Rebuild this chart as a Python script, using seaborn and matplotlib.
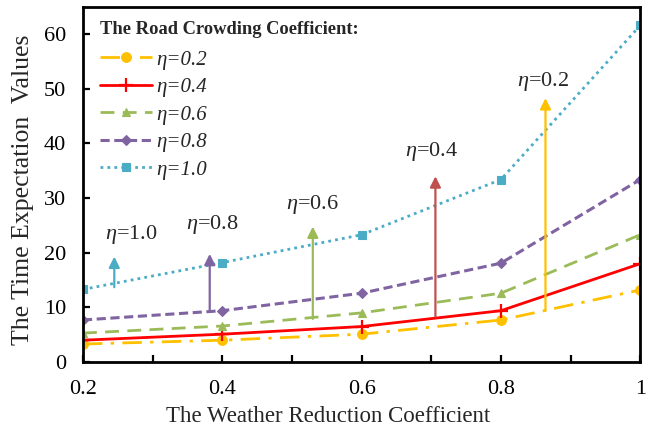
import matplotlib
matplotlib.use("Agg")
import matplotlib.pyplot as plt
import seaborn as sns
import pandas as pd

# Weather reduction coefficient (x) and time expectation values per crowding level
weather = [0.2, 0.4, 0.6, 0.8, 1.0]
eta_labels = ["η=0.2", "η=0.4", "η=0.6", "η=0.8", "η=1.0"]
eta02 = [3.3, 4.0, 5.1, 7.7, 13.2]
eta04 = [4.0, 5.1, 6.5, 9.4, 18.0]
eta06 = [5.3, 6.6, 9.0, 12.6, 23.3]
eta08 = [7.7, 9.4, 12.6, 18.1, 33.4]
eta10 = [13.3, 18.2, 23.3, 33.4, 61.6]

x_ticks = [0.2, 0.3, 0.4, 0.5, 0.6, 0.7, 0.8, 0.9, 1.0]
x_tick_labels = ["0.2", "", "0.4", "", "0.6", "", "0.8", "", "1"]
y_ticks = [0, 10, 20, 30, 40, 50, 60]

# Arrow callouts: (label, x, base, tip, label_x, label_y)
callouts = [
    ("1.0", 0.245, 13.7, 19.3, 0.270, 23.3),
    ("0.8", 0.382, 9.2, 19.8, 0.385, 25.1),
    ("0.6", 0.530, 7.9, 24.8, 0.529, 28.8),
    ("0.4", 0.706, 8.3, 34.0, 0.700, 38.5),
    ("0.2", 0.864, 9.4, 48.3, 0.860, 51.4),
]

sns.set_theme(style="white")
plt.rcParams["font.family"] = ["Liberation Serif", "DejaVu Serif"]
plt.rcParams["mathtext.fontset"] = "custom"
plt.rcParams["mathtext.rm"] = "Liberation Serif"
plt.rcParams["mathtext.it"] = "Liberation Serif:italic"

df = pd.DataFrame({
    "x": weather * 5,
    "y": eta02 + eta04 + eta06 + eta08 + eta10,
    "eta": [lab for lab in eta_labels for _ in weather],
})

styles = {
    "η=0.2": dict(color="#FFC000", dashes=(7, 3, 1.2, 3), marker="o", ms=7, lw=2.0),
    "η=0.4": dict(color="#FF0000", dashes=None, marker="+", ms=10, lw=2.0),
    "η=0.6": dict(color="#9BBB59", dashes=(5, 3), marker="^", ms=6, lw=2.0),
    "η=0.8": dict(color="#8064A2", dashes=(3, 1.5), marker="D", ms=5, lw=2.2),
    "η=1.0": dict(color="#4BACC6", dashes=(1, 1.5), marker="s", ms=6, lw=2.0),
}
arrow_colors = {"1.0": "#4BACC6", "0.8": "#8064A2", "0.6": "#9BBB59",
                "0.4": "#C0504D", "0.2": "#FFC000"}

fig = plt.figure(figsize=(6.48, 4.30), dpi=100)
ax = fig.add_axes([0.128, 0.158, 0.860, 0.826])

for lab in eta_labels:
    st = styles[lab]
    sub = df[df["eta"] == lab]
    sns.lineplot(data=sub, x="x", y="y", ax=ax, color=st["color"], lw=st["lw"],
                 marker=st["marker"], markersize=st["ms"], markeredgecolor=st["color"],
                 markeredgewidth=1.6 if st["marker"] == "+" else 0.8,
                 label=lab, legend=False)
    line = ax.lines[-1]
    if st["dashes"] is not None:
        line.set_dashes(st["dashes"])

for lab, x, base, tip, lx, ly in callouts:
    c = arrow_colors[lab]
    ax.annotate("", xy=(x, tip), xytext=(x, base),
                arrowprops=dict(arrowstyle="-|>", color=c, lw=1.6, mutation_scale=16,
                                shrinkA=0, shrinkB=0))
    ax.text(lx, ly, r"$\eta$=" + lab, ha="center", va="center", fontsize=16)

ax.set_xlim(0.2, 1.0)
ax.set_ylim(0, 65)
ax.set_xticks(x_ticks)
ax.set_xticklabels(x_tick_labels)
ax.set_yticks(y_ticks)
ax.tick_params(direction="in", length=5, width=1.6, labelsize=16, colors="black",
               left=True, bottom=True)
ax.tick_params(axis="x", pad=13)
ax.tick_params(axis="y", pad=12)
for sp in ax.spines.values():
    sp.set_visible(True)
    sp.set_color("black")
    sp.set_linewidth(2.0)

ax.set_xlabel("The Weather Reduction Coefficient", fontsize=16.5, labelpad=0)
ax.xaxis.set_label_coords(0.44, -0.125)
ax.set_ylabel("The Time Expectation  Values", fontsize=18.5)
ax.yaxis.set_label_coords(-0.088, 0.485)

leg = ax.legend(loc="upper left", bbox_to_anchor=(0.0, 1.008), frameon=False,
                title="The Road Crowding Coefficient:",
                prop=dict(family="Liberation Serif", style="italic", size=15),
                handlelength=2.5, handletextpad=0.2, labelspacing=0.38,
                borderaxespad=0.4, markerscale=1.0)
leg.get_title().set_fontweight("bold")
leg.get_title().set_fontsize(13.3)
leg._legend_box.align = "left"
leg._legend_box.sep = 9

fig.savefig("out.png", dpi=100)
